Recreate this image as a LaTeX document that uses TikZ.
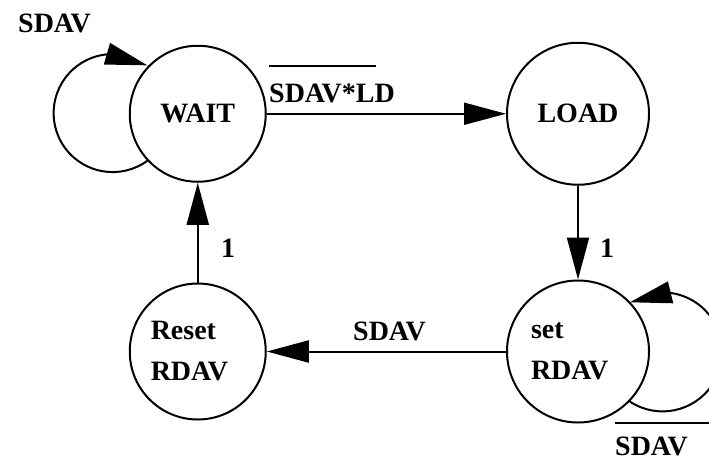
\documentclass[tikz,border=0pt]{standalone}
\usepackage{fontspec}
\setmainfont{Liberation Serif}
\usetikzlibrary{arrows.meta,bending}
\begin{document}
\begin{tikzpicture}[x=1pt,y=-1pt,
  every node/.style={font=\bfseries\fontsize{28}{41}\selectfont},
  state/.style={draw, circle, line width=2pt, inner sep=0pt},
  lbl/.style={inner sep=0pt},
  tr/.style={line width=2pt, -{Triangle[length=42pt,width=22pt,flex]}},
  bar/.style={line width=2pt}]
\useasboundingbox (0,0) rectangle (709,459);
\clip (0,0) rectangle (709,459);
\node[state, minimum size=136pt] (wait) at (197.75,113.75) {WAIT};
\node[state, minimum size=142pt] (load) at (578,113.75) {LOAD};
\node[state, minimum size=142pt, text width=94pt, align=left] (set) at (578,351.5) {set\\RDAV};
\node[state, minimum size=136pt, text width=94pt, align=left] (reset) at (197.75,351.5) {Reset\\RDAV};
% transitions
\draw[tr] (wait) -- (load);
\draw[tr] (load) -- (set);
\draw[tr] (set) -- (reset);
\draw[tr] (reset) -- (wait);
% self loops
\draw[tr] (wait.223.8) arc[start angle=-54, end angle=-306, radius=59pt];
\draw[tr] (set.316.4) arc[start angle=236.5, end angle=483.5, radius=59.5pt];
% labels
\node[lbl, anchor=base west] (l1) at (18,32) {SDAV};
\node[lbl, anchor=base west] (l2) at (269,102) {SDAV*LD};
\draw[bar] ([yshift=36pt]l2.base west) -- ++(107,0);
\node[lbl, anchor=base west] (l3) at (221,257) {1};
\node[lbl, anchor=base west] (l4) at (600,257) {1};
\node[lbl, anchor=base west] (l5) at (353,340) {SDAV};
\node[lbl, anchor=base west] (l6) at (615,455) {SDAV};
\draw[bar] ([yshift=32pt]l6.base west) -- ++(100,0);
\end{tikzpicture}
\end{document}
